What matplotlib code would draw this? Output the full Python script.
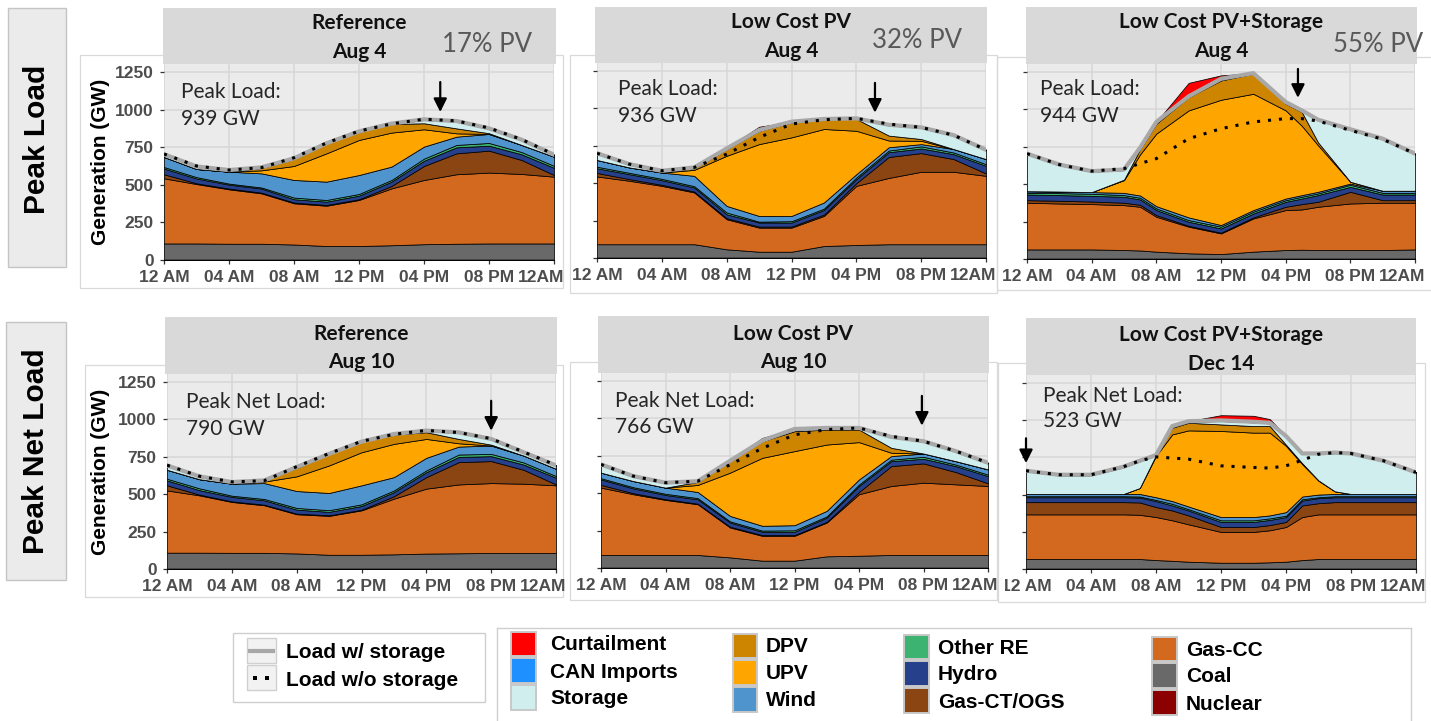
import numpy as np
import matplotlib
matplotlib.use("Agg")
import matplotlib.pyplot as plt
from matplotlib.patches import Rectangle
from matplotlib.lines import Line2D
from matplotlib.transforms import ScaledTranslation

W, H, DPI = 1431, 721, 100
plt.rcParams['font.family'] = ['Liberation Sans', 'DejaVu Sans']

# ---------------- data ----------------
HOURS_2H = [0, 2, 4, 6, 8, 10, 12, 14, 16, 18, 20, 22, 24]
HOURS_P3 = [0, 2, 4, 6, 7, 8, 10, 12, 14, 16, 17, 18, 20, 22, 24]
HOURS_P6 = [0, 2, 4, 6, 7, 8, 9, 10, 12, 14, 15, 16, 17, 18, 19, 20, 22, 24]

TICK_HOURS = [0, 4, 8, 12, 16, 20, 24]
TICK_LABELS = ["12 AM", "04 AM", "08 AM", "12 PM", "04 PM", "08 PM", "12AM"]
Y_TICKS = [0, 250, 500, 750, 1000, 1250]

TECH_ORDER = ["Nuclear", "Coal", "Gas-CC", "Gas-CT/OGS", "Hydro", "Other RE",
              "Wind", "UPV", "DPV", "Storage", "CAN Imports", "Curtailment"]
TECH_COLORS = ["#8B0000", "#696969", "#D2691E", "#8B4513", "#27408B", "#3CB371",
               "#4F94CD", "#FFA500", "#CD8500", "#D1EEEE", "#1E90FF", "#FF0000"]

# Panel 1: Reference, Aug 4
P1_NUCLEAR = [3, 3, 3, 3, 3, 3, 3, 3, 3, 3, 3, 3, 3]
P1_COAL = [107, 107, 105, 105, 100, 90, 90, 95, 102, 105, 107, 107, 107]
P1_GASCC = [433, 395, 362, 335, 274, 268, 306, 378, 427, 462, 471, 462, 444]
P1_GASCT = [27, 5, 5, 5, 5, 5, 5, 16, 93, 139, 146, 93, 11]
P1_HYDRO = [38, 32, 26, 27, 22, 22, 24, 29, 35, 40, 33, 38, 48]
P1_OTHERRE = [10, 9, 7, 7, 11, 11, 11, 11, 14, 16, 18, 15, 13]
P1_WIND = [67, 54, 79, 94, 117, 122, 126, 89, 80, 55, 60, 47, 61]
P1_UPV = [0, 0, 0, 20, 93, 188, 233, 226, 115, 22, 0, 0, 0]
P1_DPV = [0, 0, 0, 16, 47, 67, 57, 57, 40, 33, 5, 0, 0]
P1_STORAGE = [14, 13, 7, 0, 0, 0, 0, 0, 22, 45, 28, 31, 9]
P1_CAN = [4, 4, 4, 4, 4, 4, 4, 4, 4, 4, 4, 4, 4]
P1_CURT = [0, 0, 0, 0, 0, 0, 0, 0, 0, 0, 0, 0, 0]
P1_LOAD_W = [703, 622, 598, 616, 676, 776, 855, 907, 935, 924, 875, 800, 700]
P1_LOAD_WO = [705, 625, 598, 614, 680, 778, 857, 905, 936, 925, 878, 802, 702]

# Panel 2: Low Cost PV, Aug 4
P2_NUCLEAR = [3, 3, 3, 3, 3, 3, 3, 3, 3, 3, 3, 3, 3]
P2_COAL = [89, 89, 89, 89, 55, 39, 39, 77, 84, 89, 89, 89, 89]
P2_GASCC = [453, 424, 390, 346, 201, 161, 161, 201, 395, 443, 484, 484, 457]
P2_GASCT = [23, 11, 7, 6, 7, 7, 7, 9, 18, 140, 125, 85, 16]
P2_HYDRO = [32, 33, 31, 27, 26, 27, 27, 31, 27, 32, 31, 33, 51]
P2_OTHERRE = [10, 9, 9, 9, 12, 6, 9, 9, 11, 11, 14, 11, 11]
P2_WIND = [45, 36, 42, 69, 44, 38, 35, 41, 22, 22, 15, 23, 34]
P2_UPV = [0, 0, 0, 40, 335, 480, 525, 491, 290, 45, 22, 0, 0]
P2_DPV = [0, 0, 0, 11, 45, 89, 100, 67, 79, 33, 12, 0, 0]
P2_STORAGE = [41, 18, 8, 1, 0, 1, 1, 0, 0, 68, 74, 89, 58]
P2_CAN = [4, 4, 4, 4, 4, 4, 4, 4, 4, 4, 4, 4, 4]
P2_CURT = [0, 0, 0, 0, 3, 22, 0, 0, 0, 0, 0, 0, 0]
P2_LOAD_W = [700, 627, 583, 605, 732, 855, 911, 929, 933, 890, 873, 821, 723]
P2_LOAD_WO = [700, 627, 583, 605, 694, 806, 895, 924, 933, 895, 873, 821, 723]

# Panel 3: Low Cost PV+Storage, Aug 4
P3_NUCLEAR = [3, 3, 3, 3, 3, 3, 3, 3, 3, 3, 3, 3, 3, 3, 3]
P3_COAL = [61, 61, 61, 57, 54, 46, 35, 30, 46, 57, 59, 57, 57, 57, 61]
P3_GASCC = [312, 307, 303, 300, 292, 233, 178, 138, 222, 267, 269, 289, 311, 316, 312]
P3_GASCT = [17, 18, 17, 16, 13, 11, 6, 5, 7, 22, 36, 33, 78, 17, 17]
P3_HYDRO = [38, 38, 38, 40, 36, 34, 27, 28, 26, 33, 37, 45, 33, 38, 38]
P3_OTHERRE = [11, 13, 14, 11, 11, 11, 11, 12, 12, 11, 12, 11, 14, 11, 11]
P3_WIND = [11, 11, 11, 15, 15, 15, 18, 11, 11, 11, 11, 11, 8, 14, 14]
P3_UPV = [0, 0, 0, 85, 276, 485, 715, 837, 777, 589, 463, 311, 12, 0, 0]
P3_DPV = [0, 0, 0, 3, 35, 66, 89, 129, 134, 45, 92, 20, 0, 0, 0]
P3_STORAGE = [247, 176, 136, 64, 5, 8, 1, 7, 0, 7, 7, 147, 347, 344, 244]
P3_CAN = [4, 4, 4, 4, 4, 4, 4, 4, 4, 4, 4, 4, 4, 4, 4]
P3_CURT = [0, 0, 0, 0, 0, 0, 90, 23, 0, 0, 0, 0, 0, 0, 0]
P3_LOAD_W = [704, 631, 587, 598, 744, 916, 1087, 1204, 1242, 1049, 993, 931, 867, 804, 704]
P3_LOAD_WO = [704, 631, 587, 604, 638, 671, 804, 871, 916, 938, 938, 922, 860, 800, 704]

# Panel 4: Reference, Aug 10
P4_NUCLEAR = [3, 3, 3, 3, 3, 3, 3, 3, 3, 3, 3, 3, 3]
P4_COAL = [106, 106, 105, 105, 101, 92, 92, 95, 100, 102, 104, 104, 104]
P4_GASCC = [416, 383, 340, 318, 262, 260, 297, 372, 434, 460, 467, 463, 452]
P4_GASCT = [34, 5, 4, 4, 4, 4, 4, 16, 77, 149, 147, 93, 6]
P4_HYDRO = [33, 30, 30, 29, 27, 23, 25, 28, 33, 35, 33, 35, 45]
P4_OTHERRE = [11, 12, 8, 9, 11, 11, 11, 11, 12, 16, 15, 14, 11]
P4_WIND = [60, 61, 80, 106, 113, 115, 127, 89, 84, 53, 56, 46, 49]
P4_UPV = [0, 0, 0, 10, 98, 184, 221, 222, 126, 22, 0, 0, 0]
P4_DPV = [0, 0, 0, 8, 57, 77, 71, 62, 45, 29, 6, 0, 0]
P4_STORAGE = [25, 15, 7, 0, 1, 0, 0, 0, 7, 40, 34, 18, 18]
P4_CAN = [4, 4, 4, 4, 4, 4, 4, 4, 4, 4, 4, 4, 4]
P4_CURT = [0, 0, 0, 0, 0, 0, 0, 0, 0, 0, 0, 0, 0]
P4_LOAD_W = [692, 619, 581, 592, 681, 769, 851, 902, 925, 913, 869, 780, 692]
P4_LOAD_WO = [694, 620, 582, 590, 684, 772, 853, 900, 926, 912, 871, 782, 694]

# Panel 5: Low Cost PV, Aug 10
P5_NUCLEAR = [3, 3, 3, 3, 3, 3, 3, 3, 3, 3, 3, 3, 3]
P5_COAL = [84, 84, 84, 84, 68, 46, 46, 75, 79, 84, 84, 84, 84]
P5_GASCC = [450, 406, 368, 339, 200, 166, 166, 226, 411, 461, 483, 472, 461]
P5_GASCT = [18, 7, 5, 4, 5, 5, 5, 5, 15, 133, 129, 82, 18]
P5_HYDRO = [37, 32, 28, 29, 28, 22, 22, 28, 40, 33, 31, 40, 48]
P5_OTHERRE = [8, 8, 8, 8, 8, 8, 10, 8, 10, 10, 13, 10, 10]
P5_WIND = [37, 41, 41, 41, 36, 32, 34, 37, 34, 24, 22, 23, 35]
P5_UPV = [0, 0, 0, 47, 289, 454, 495, 443, 249, 22, 0, 0, 0]
P5_DPV = [0, 0, 0, 20, 77, 111, 133, 100, 84, 33, 0, 0, 0]
P5_STORAGE = [51, 29, 29, 1, 0, 0, 11, 7, 7, 69, 78, 63, 40]
P5_CAN = [4, 4, 4, 4, 4, 4, 4, 4, 4, 4, 4, 4, 4]
P5_CURT = [0, 0, 0, 0, 3, 18, 0, 0, 0, 0, 0, 0, 0]
P5_LOAD_W = [692, 614, 570, 580, 716, 851, 929, 936, 936, 876, 847, 781, 703]
P5_LOAD_WO = [692, 614, 570, 580, 690, 800, 890, 925, 936, 880, 847, 781, 703]

# Panel 6: Low Cost PV+Storage, Dec 14
P6_NUCLEAR = [3, 3, 3, 3, 3, 3, 3, 3, 3, 3, 3, 3, 3, 3, 3, 3, 3, 3]
P6_COAL = [64, 64, 64, 64, 64, 57, 52, 46, 39, 39, 42, 46, 57, 64, 64, 64, 64, 64]
P6_GASCC = [300, 300, 300, 300, 297, 289, 272, 251, 207, 207, 215, 233, 289, 300, 300, 300, 300, 300]
P6_GASCT = [82, 82, 82, 82, 83, 67, 66, 60, 33, 33, 35, 34, 78, 75, 82, 82, 82, 82]
P6_HYDRO = [33, 33, 33, 33, 33, 40, 34, 33, 34, 34, 35, 33, 33, 34, 33, 33, 33, 33]
P6_OTHERRE = [7, 7, 7, 7, 7, 8, 11, 9, 11, 11, 10, 9, 9, 6, 7, 7, 7, 7]
P6_WIND = [15, 15, 15, 15, 17, 18, 18, 18, 22, 22, 20, 24, 18, 18, 15, 15, 15, 15]
P6_UPV = [0, 0, 0, 0, 40, 278, 448, 511, 578, 567, 556, 445, 217, 93, 18, 0, 0, 0]
P6_DPV = [0, 0, 0, 0, 0, 5, 45, 51, 44, 44, 44, 8, 6, 2, 0, 0, 0, 0]
P6_STORAGE = [152, 125, 125, 179, 179, 0, 7, 7, 23, 25, 18, 54, 62, 177, 256, 268, 219, 141]
P6_CAN = [4, 4, 4, 4, 4, 4, 4, 4, 4, 4, 4, 4, 4, 4, 4, 4, 4, 4]
P6_CURT = [0, 0, 0, 0, 0, 0, 0, 0, 35, 40, 25, 0, 0, 0, 0, 0, 0, 0]
P6_LOAD_W = [660, 633, 633, 687, 727, 765, 960, 993, 998, 989, 982, 893, 776, 776, 782, 776, 727, 649]
P6_LOAD_WO = [660, 633, 633, 687, 727, 753, 745, 738, 693, 682, 678, 693, 731, 771, 782, 776, 727, 649]

SCENARIOS = ["Reference", "Low Cost PV", "Low Cost PV+Storage",
             "Reference", "Low Cost PV", "Low Cost PV+Storage"]
DAYS = ["Aug 4", "Aug 4", "Aug 4", "Aug 10", "Aug 10", "Dec 14"]
PEAK_LABELS = ["Peak Load:", "Peak Load:", "Peak Load:",
               "Peak Net Load:", "Peak Net Load:", "Peak Net Load:"]
PEAK_VALUES = ["939 GW", "936 GW", "944 GW", "790 GW", "766 GW", "523 GW"]
PV_SHARES = ["17% PV", "32% PV", "55% PV"]
ROW_LABELS = ["Peak Load", "Peak Net Load"]
# arrow: hour, tail value, tip value
ARROW_HOURS = [17.0, 17.15, 16.76, 20.0, 19.9, 0.0]
ARROW_TAILS = [1183, 1170, 1270, 1124, 1150, 878]
ARROW_TIPS = [984, 971, 1077, 924, 951, 711]

PANEL_HOURS = [HOURS_2H, HOURS_2H, HOURS_P3, HOURS_2H, HOURS_2H, HOURS_P6]
PANEL_SERIES = [
    [P1_NUCLEAR, P1_COAL, P1_GASCC, P1_GASCT, P1_HYDRO, P1_OTHERRE, P1_WIND, P1_UPV, P1_DPV, P1_STORAGE, P1_CAN, P1_CURT],
    [P2_NUCLEAR, P2_COAL, P2_GASCC, P2_GASCT, P2_HYDRO, P2_OTHERRE, P2_WIND, P2_UPV, P2_DPV, P2_STORAGE, P2_CAN, P2_CURT],
    [P3_NUCLEAR, P3_COAL, P3_GASCC, P3_GASCT, P3_HYDRO, P3_OTHERRE, P3_WIND, P3_UPV, P3_DPV, P3_STORAGE, P3_CAN, P3_CURT],
    [P4_NUCLEAR, P4_COAL, P4_GASCC, P4_GASCT, P4_HYDRO, P4_OTHERRE, P4_WIND, P4_UPV, P4_DPV, P4_STORAGE, P4_CAN, P4_CURT],
    [P5_NUCLEAR, P5_COAL, P5_GASCC, P5_GASCT, P5_HYDRO, P5_OTHERRE, P5_WIND, P5_UPV, P5_DPV, P5_STORAGE, P5_CAN, P5_CURT],
    [P6_NUCLEAR, P6_COAL, P6_GASCC, P6_GASCT, P6_HYDRO, P6_OTHERRE, P6_WIND, P6_UPV, P6_DPV, P6_STORAGE, P6_CAN, P6_CURT],
]
PANEL_LOAD_W = [P1_LOAD_W, P2_LOAD_W, P3_LOAD_W, P4_LOAD_W, P5_LOAD_W, P6_LOAD_W]
PANEL_LOAD_WO = [P1_LOAD_WO, P2_LOAD_WO, P3_LOAD_WO, P4_LOAD_WO, P5_LOAD_WO, P6_LOAD_WO]

# ---------------- layout (pixels) ----------------
AX_BOXES = [(164, 64, 554, 260), (597, 63, 986, 258), (1027, 64, 1415, 259),
            (167, 374, 556, 569), (601, 373, 988, 568), (1026, 375, 1416, 569)]
STRIP_BOXES = [(163, 8, 556, 64), (595, 7, 987, 63), (1026, 7, 1417, 64),
               (165, 317, 557, 374), (598, 316, 989, 373), (1026, 318, 1416, 375)]
STRIP_BASELINES = [(29, 57.5), (28, 57), (28, 57), (340, 368.5), (340, 368.5), (341, 369.5)]
PEAK_POS = [(181, 98, 125), (618, 95, 122), (1040, 95, 122),
            (186, 408, 435), (615, 407, 433), (1043, 402, 427)]
PV_POS = [(442, 52), (872, 48), (1333, 52)]
FRAME_BOXES = [(80, 55, 563, 288), (570, 55, 997, 293), (997, 57, 1440, 290),
               (85, 365, 563, 597), (570, 362, 997, 600), (998, 363, 1425, 602)]

fig = plt.figure(figsize=(W / DPI, H / DPI), dpi=DPI)
fig.patch.set_facecolor("white")


def fx(x):
    return x / W


def fy(y):
    return 1 - y / H


def add_rect(x0, y0, x1, y1, fc, ec, lw=1.0, z=1):
    r = Rectangle((fx(x0), fy(y1)), (x1 - x0) / W, (y1 - y0) / H,
                  transform=fig.transFigure, facecolor=fc, edgecolor=ec,
                  linewidth=lw, zorder=z)
    fig.add_artist(r)
    return r


def ptext(x, y, s, **kw):
    return fig.text(fx(x), fy(y), s, **kw)


# faint screenshot frames
for (x0, y0, x1, y1) in FRAME_BOXES:
    add_rect(x0, y0, x1, y1, "none", "#D9D9D9", lw=0.9, z=-1)

GRID_C = "#D7D7D7"
for i in range(6):
    x0, y0, x1, y1 = AX_BOXES[i]
    ax = fig.add_axes([fx(x0), fy(y1), (x1 - x0) / W, (y1 - y0) / H])
    ax.set_facecolor("#EBEBEB")
    for s in ax.spines.values():
        s.set_visible(False)
    ax.set_xlim(0, 24)
    ax.set_ylim(0, 1303)
    ax.set_xticks(TICK_HOURS)
    ax.set_xticklabels(TICK_LABELS, fontweight="bold")
    ax.set_yticks(Y_TICKS)
    if i in (0, 3):
        ax.set_yticklabels([str(v) for v in Y_TICKS], fontweight="bold")
    else:
        ax.set_yticklabels([])
    ax.grid(True, color=GRID_C, linewidth=1.1, zorder=0)
    ax.set_axisbelow(True)
    ax.tick_params(axis="both", length=3, width=0.9, color="#333333",
                   labelsize=12.5, labelcolor="#4D4D4D", pad=4.5)

    hrs = np.asarray(PANEL_HOURS[i], dtype=float)
    base = np.zeros_like(hrs)
    for vals, col in zip(PANEL_SERIES[i], TECH_COLORS):
        top = base + np.asarray(vals, dtype=float)
        ax.fill_between(hrs, base, top, facecolor=col, edgecolor="black",
                        linewidth=0.55, zorder=2)
        base = top
    ax.plot(hrs, PANEL_LOAD_W[i], color="#A8A8A8", lw=3.0, zorder=4,
            solid_joinstyle="round")
    ax.plot(hrs, PANEL_LOAD_WO[i], color="black", lw=2.2,
            linestyle=(0, (1, 2.6)), zorder=5)

    ax.annotate("", xy=(ARROW_HOURS[i], ARROW_TIPS[i]),
                xytext=(ARROW_HOURS[i], ARROW_TAILS[i]),
                arrowprops=dict(arrowstyle="-|>", color="black", lw=1.6,
                                mutation_scale=20, shrinkA=0, shrinkB=0),
                annotation_clip=False, clip_on=False, zorder=6)

    labels = ax.get_xticklabels()
    labels[-1].set_transform(labels[-1].get_transform() +
                             ScaledTranslation(-13 / DPI, 0, fig.dpi_scale_trans))
    if i == 5:
        clip = Rectangle((fx(1005), 0), 1, 1, transform=fig.transFigure,
                         facecolor="none", edgecolor="none")
        labels[0].set_clip_path(clip)
        labels[0].set_clip_on(True)

    # strip
    sx0, sy0, sx1, sy1 = STRIP_BOXES[i]
    add_rect(sx0, sy0, sx1, sy1, "#D9D9D9", "none", lw=0, z=2)
    cx = (sx0 + sx1) / 2
    b1, b2 = STRIP_BASELINES[i]
    ptext(cx, b1, SCENARIOS[i], ha="center", va="baseline", fontsize=15,
          fontweight="bold", family=["Lato", "DejaVu Sans"], color="#111111", zorder=3)
    ptext(cx, b2, DAYS[i], ha="center", va="baseline", fontsize=15,
          fontweight="bold", family=["Lato", "DejaVu Sans"], color="#111111", zorder=3)

    # peak annotation
    px, pb1, pb2 = PEAK_POS[i]
    ptext(px, pb1, PEAK_LABELS[i], ha="left", va="baseline", fontsize=15,
          family=["Lato", "DejaVu Sans"], color="#262626", zorder=7)
    ptext(px, pb2, PEAK_VALUES[i], ha="left", va="baseline", fontsize=15,
          family=["Lato", "DejaVu Sans"], color="#262626", zorder=7)

for j in range(3):
    x, b = PV_POS[j]
    ptext(x, b, PV_SHARES[j], ha="left", va="baseline", fontsize=18.5,
          family=["Lato", "DejaVu Sans"], color="#595959", zorder=4)

# y axis titles
ptext(100, 162, "Generation (GW)", rotation=90, ha="center", va="center",
      fontsize=15, fontweight="bold", color="black")
ptext(101, 472, "Generation (GW)", rotation=90, ha="center", va="center",
      fontsize=15, fontweight="bold", color="black")

# row labels
add_rect(8, 8, 66, 267, "#EBEBEB", "#C4C4C4", lw=1.0, z=1)
add_rect(6, 322, 66, 580, "#EBEBEB", "#C4C4C4", lw=1.0, z=1)
ptext(37, 139, ROW_LABELS[0], rotation=90, ha="center", va="center",
      fontsize=21.5, fontweight="bold", color="black", zorder=3)
ptext(36, 451, ROW_LABELS[1], rotation=90, ha="center", va="center",
      fontsize=21.5, fontweight="bold", color="black", zorder=3)

# ---------------- legends ----------------
LEG_FS = 15
add_rect(233, 633, 485, 702, "white", "#CFCFCF", lw=1.0, z=1)
add_rect(247, 638, 276, 663, "#F2F2F2", "#D0D0D0", lw=1.0, z=2)
add_rect(247, 665, 276, 690, "#F2F2F2", "#D0D0D0", lw=1.0, z=2)
fig.add_artist(Line2D([fx(250), fx(273)], [fy(651), fy(651)], transform=fig.transFigure,
                      color="#A8A8A8", lw=3.0, zorder=3))
fig.add_artist(Line2D([fx(255), fx(267)], [fy(678), fy(678)], transform=fig.transFigure,
                      color="black", linestyle="none", marker="s", markersize=2.2,
                      markeredgewidth=0, zorder=3))
ptext(286, 653, "Load w/ storage", ha="left", va="center", fontsize=LEG_FS,
      fontweight="bold", color="black", zorder=3)
ptext(286, 681, "Load w/o storage", ha="left", va="center", fontsize=LEG_FS,
      fontweight="bold", color="black", zorder=3)

fig.add_artist(Line2D([fx(497), fx(1411)], [fy(628), fy(628)], transform=fig.transFigure,
                      color="#CFCFCF", lw=1.0, zorder=1))
fig.add_artist(Line2D([fx(497), fx(497)], [fy(628), fy(721)], transform=fig.transFigure,
                      color="#CFCFCF", lw=1.0, zorder=1))
fig.add_artist(Line2D([fx(1411), fx(1411)], [fy(628), fy(721)], transform=fig.transFigure,
                      color="#CFCFCF", lw=1.0, zorder=1))

LEG_COLS_X = [(511, 536, 550), (733, 757, 766), (904, 929, 938), (1152, 1177, 1186)]
LEG_ROWS_Y = [(632, 656, 645), (658, 683, 672), (685, 710, 699)]
LEG_COL_DY = [0, 1.5, 3, 5]
legend_order = TECH_ORDER[::-1]
legend_colors = TECH_COLORS[::-1]
for k, (name, col) in enumerate(zip(legend_order, legend_colors)):
    c, r = divmod(k, 3)
    sx0, sx1, tx = LEG_COLS_X[c]
    ry0, ry1, ty = LEG_ROWS_Y[r]
    dy = LEG_COL_DY[c]
    add_rect(sx0, ry0 + dy, sx1, ry1 + dy, col, "#C8C8C8", lw=1.4, z=2)
    ptext(tx, ty + dy, name, ha="left", va="center", fontsize=LEG_FS,
          fontweight="bold", color="black", zorder=3)

fig.savefig("out.png", dpi=DPI, facecolor="white")
